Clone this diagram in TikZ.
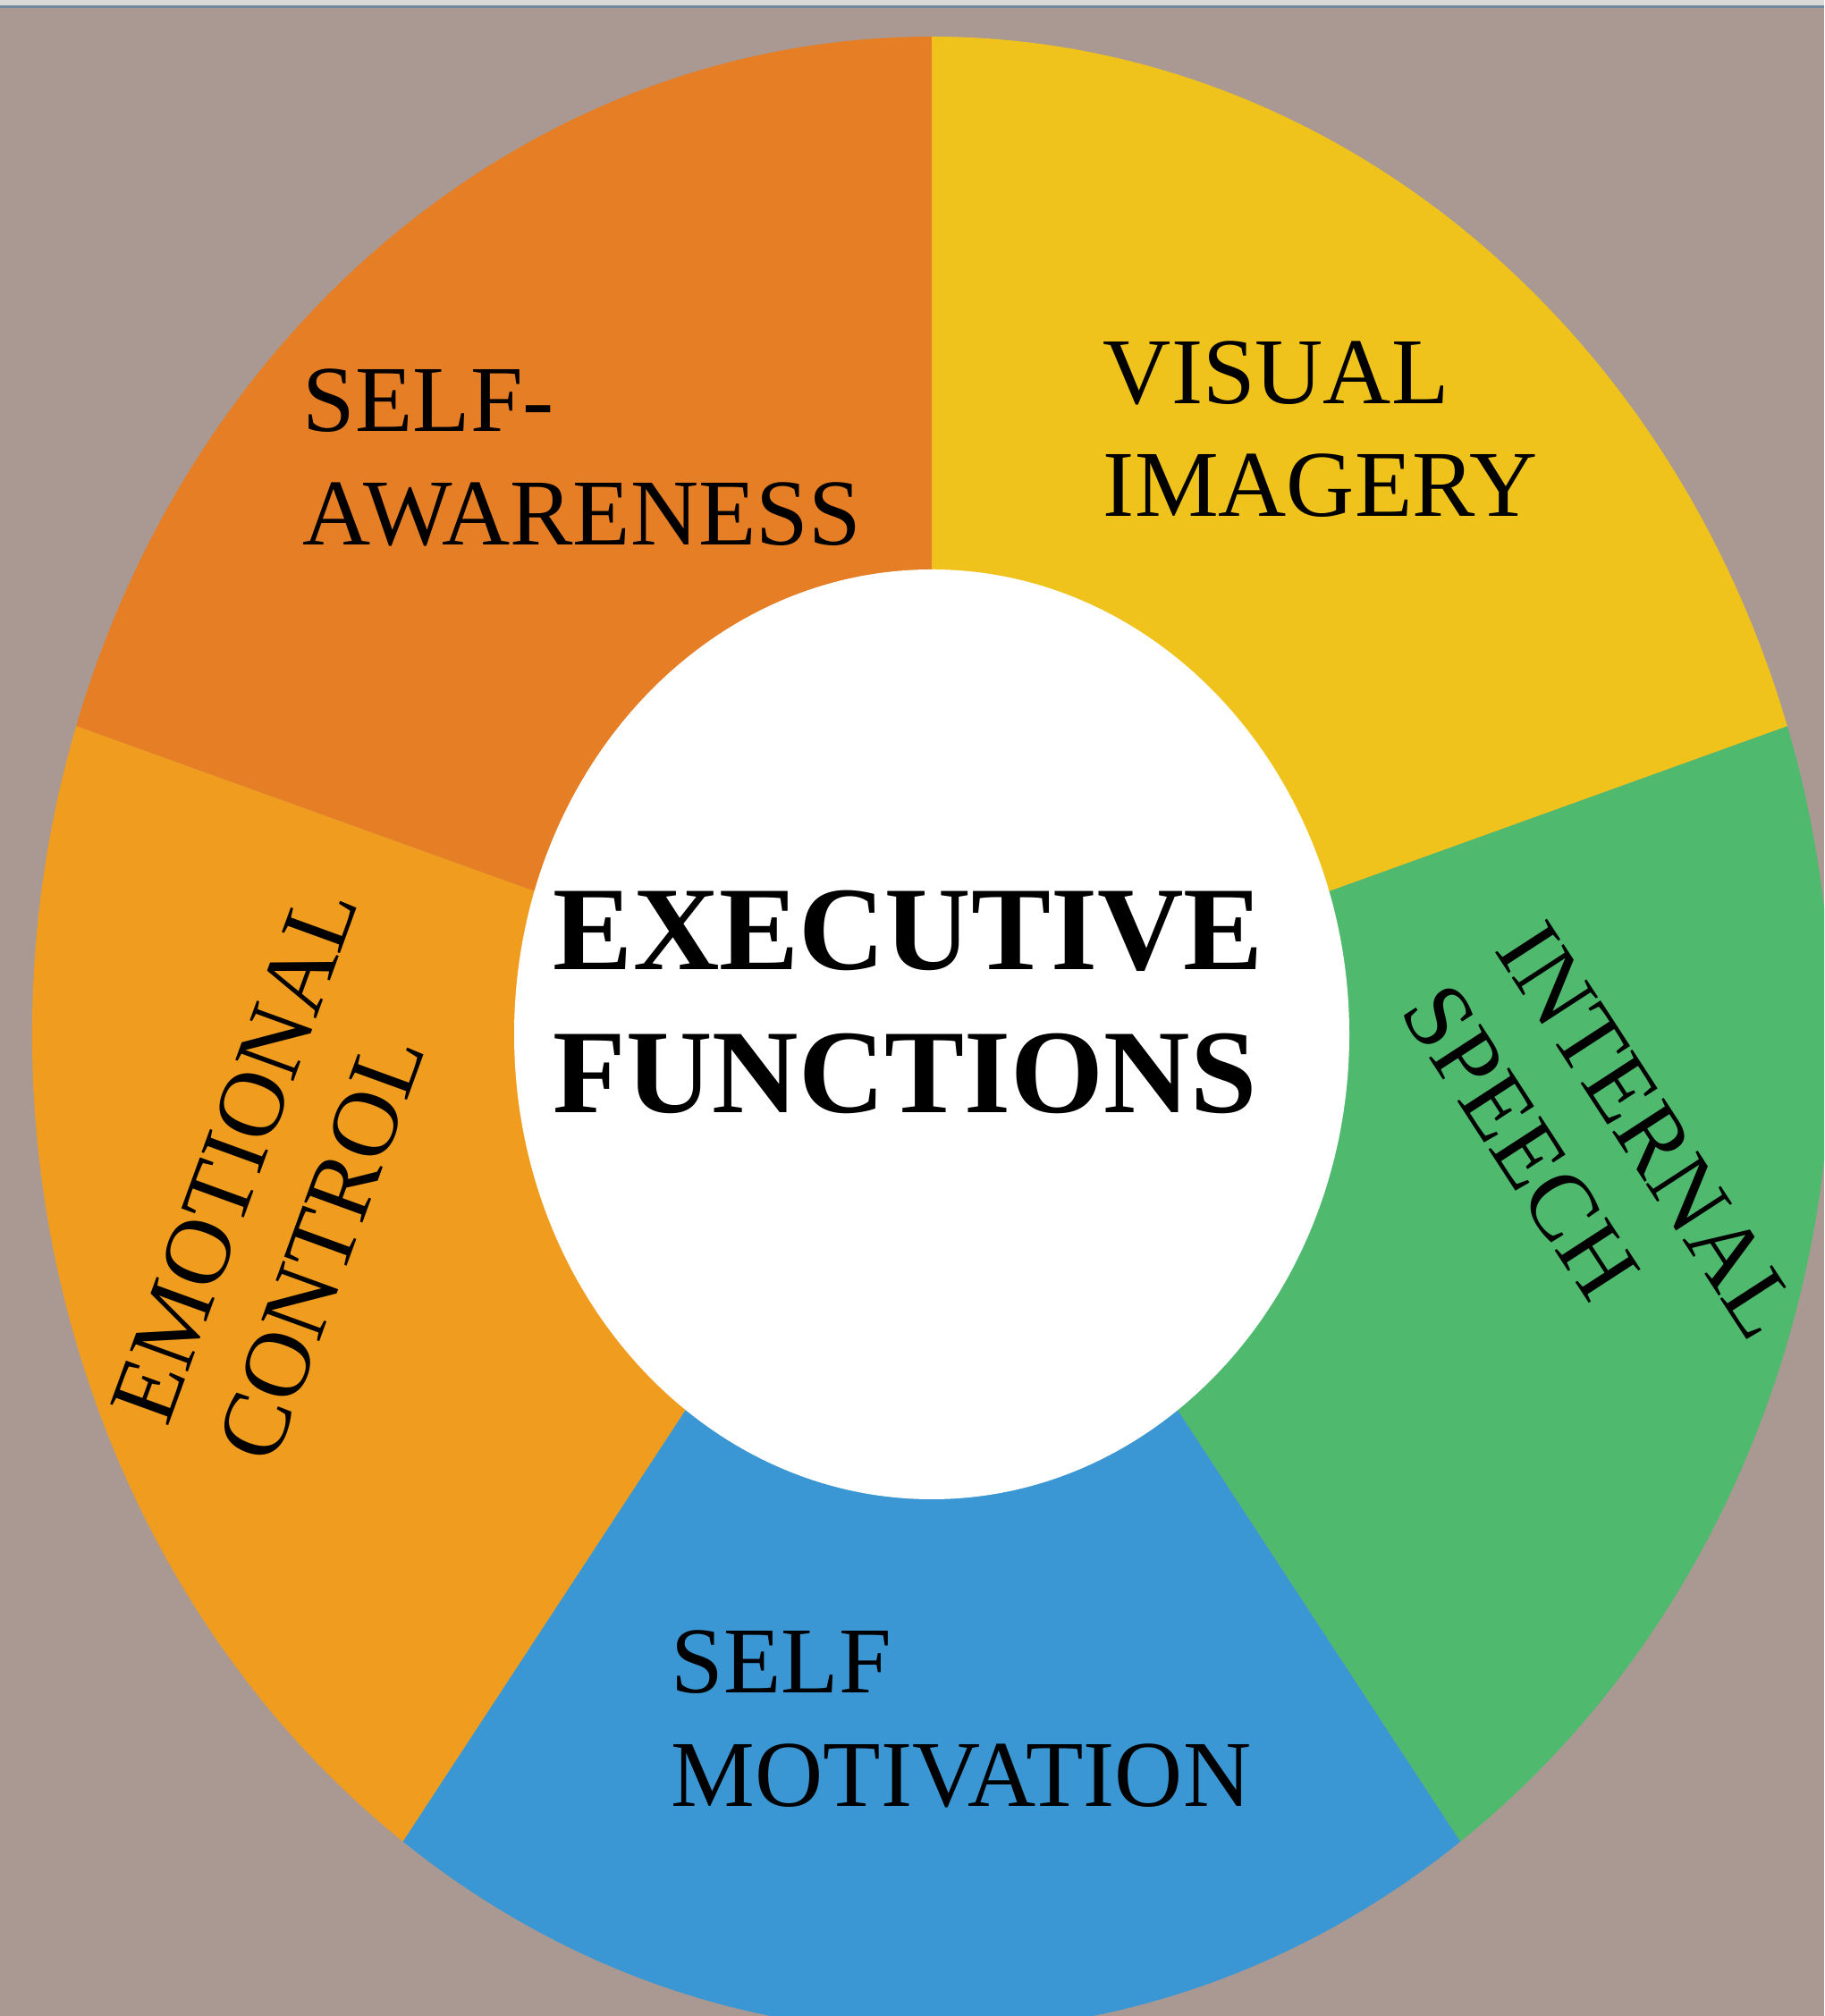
\documentclass[tikz,border=0pt]{standalone}
\usepackage{fontspec}
\setmainfont{Liberation Serif}
\definecolor{wallgrey}{HTML}{AA9992}
\definecolor{bargrey}{HTML}{D9D9D9}
\definecolor{barblue}{HTML}{6F8A9F}
\definecolor{awarenesscol}{HTML}{E57E25}
\definecolor{imagerycol}{HTML}{EFC31B}
\definecolor{speechcol}{HTML}{4FB96E}
\definecolor{motivationcol}{HTML}{3B97D3}
\definecolor{emotioncol}{HTML}{F09D1F}
\tikzset{
    segtext/.style={font=\fontsize{30}{36}\selectfont, align=left, inner sep=0pt},
    hubtext/.style={font=\fontsize{38}{45.5}\selectfont\bfseries, align=left, inner sep=0pt}
}
\begin{document}
\begin{tikzpicture}
    \useasboundingbox (0, 0) rectangle (20.4, 22.55);
    \clip (0, 0) rectangle (20.4, 22.55);
    \fill [wallgrey] (0, 0) rectangle (20.4, 22.55);
    \fill [bargrey] (0, 22.49) rectangle (20.4, 22.55);
    \fill [barblue] (0, 22.46) rectangle (20.4, 22.49);

    \coordinate (hub) at (10.42, 10.98);
    \fill [awarenesscol] (hub) -- ++(90:10.06 and 11.16) arc [start angle=90, end angle=162, x radius=10.06, y radius=11.16] -- cycle;
    \fill [emotioncol] (hub) -- ++(162:10.06 and 11.16) arc [start angle=162, end angle=234, x radius=10.06, y radius=11.16] -- cycle;
    \fill [motivationcol] (hub) -- ++(234:10.06 and 11.16) arc [start angle=234, end angle=306, x radius=10.06, y radius=11.16] -- cycle;
    \fill [speechcol] (hub) -- ++(306:10.06 and 11.16) arc [start angle=306, end angle=378, x radius=10.06, y radius=11.16] -- cycle;
    \fill [imagerycol] (hub) -- ++(18:10.06 and 11.16) arc [start angle=18, end angle=90, x radius=10.06, y radius=11.16] -- cycle;
    \fill [white] (hub) ellipse [x radius=4.67, y radius=5.2];

    \node [hubtext] (executive) at (10.16, 11.345) {EXECUTIVE\\FUNCTIONS};
    \node [segtext] (awareness) at (6.51, 17.43) {SELF-\\AWARENESS};
    \node [segtext] (imagery) at (14.77, 17.75) {VISUAL\\IMAGERY};
    \node [segtext] (motivation) at (10.75, 3.32) {SELF\\MOTIVATION};
    \node [segtext, rotate=70] (emotion) at (3.22, 9.42) {EMOTIONAL\\CONTROL};
    \node [segtext, rotate=-57] (speech) at (17.9, 9.56) {INTERNAL\\SPEECH};
\end{tikzpicture}
\end{document}
